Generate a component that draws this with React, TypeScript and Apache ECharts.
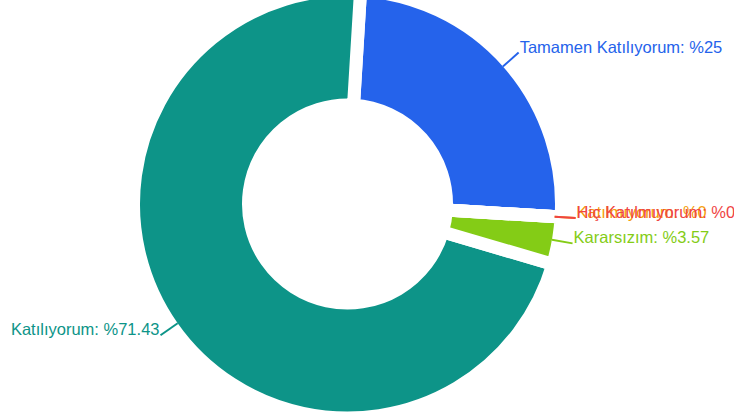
import React, { useEffect, useRef } from "react";
import * as echarts from "echarts";

const categories = [
  "Tamamen Katılıyorum",
  "Katılıyorum",
  "Kararsızım",
  "Katılmıyorum",
  "Hiç Katılmıyorum",
];
const percentages = [25, 71.43, 3.57, 0, 0];
const colors = ["#2563eb", "#0d9488", "#84cc16", "#f59e0b", "#ef4444"];

const START_ANGLE = -3.5;
const CENTER = [347.5, 204];

export default function App() {
  const ref = useRef<HTMLDivElement>(null);

  useEffect(() => {
    if (!ref.current) return;
    const chart = echarts.init(ref.current, undefined, { renderer: "svg" });

    const sliceData = categories.map((name, i) => ({
      name,
      value: percentages[i],
      itemStyle: { color: colors[i] },
    }));

    const labelData = categories.map((name, i) => ({
      name,
      value: percentages[i],
      itemStyle: { color: "rgba(0,0,0,0)" },
      label: { color: colors[i] },
      labelLine: { lineStyle: { color: colors[i] } },
    }));

    chart.setOption({
      animation: false,
      backgroundColor: "#ffffff",
      tooltip: { show: false },
      series: [
        {
          type: "pie",
          z: 2,
          center: CENTER,
          radius: [99, 214],
          startAngle: START_ANGLE,
          clockwise: false,
          silent: true,
          itemStyle: { borderColor: "#ffffff", borderWidth: 13 },
          label: { show: false },
          labelLine: { show: false },
          emphasis: { disabled: true },
          data: sliceData,
        },
        {
          type: "pie",
          z: 3,
          center: CENTER,
          radius: [105.5, 207.5],
          startAngle: START_ANGLE,
          clockwise: false,
          silent: true,
          avoidLabelOverlap: false,
          labelLayout: { hideOverlap: false },
          itemStyle: { borderWidth: 0 },
          label: {
            show: true,
            position: "outside",
            formatter: "{b}: %{c}\n",
            fontSize: 16.5,
            lineHeight: 12,
            fontFamily: "Liberation Sans, Arial, sans-serif",
            distanceToLabelLine: 1,
          },
          labelLine: {
            show: true,
            length: 21,
            length2: 0,
            smooth: false,
            lineStyle: { width: 2 },
          },
          emphasis: { disabled: true },
          data: labelData,
        },
      ],
    });
    return () => chart.dispose();
  }, []);

  return (
    <div
      ref={ref}
      style={{ position: "absolute", left: 0, top: 0, width: 734, height: 419 }}
    />
  );
}
